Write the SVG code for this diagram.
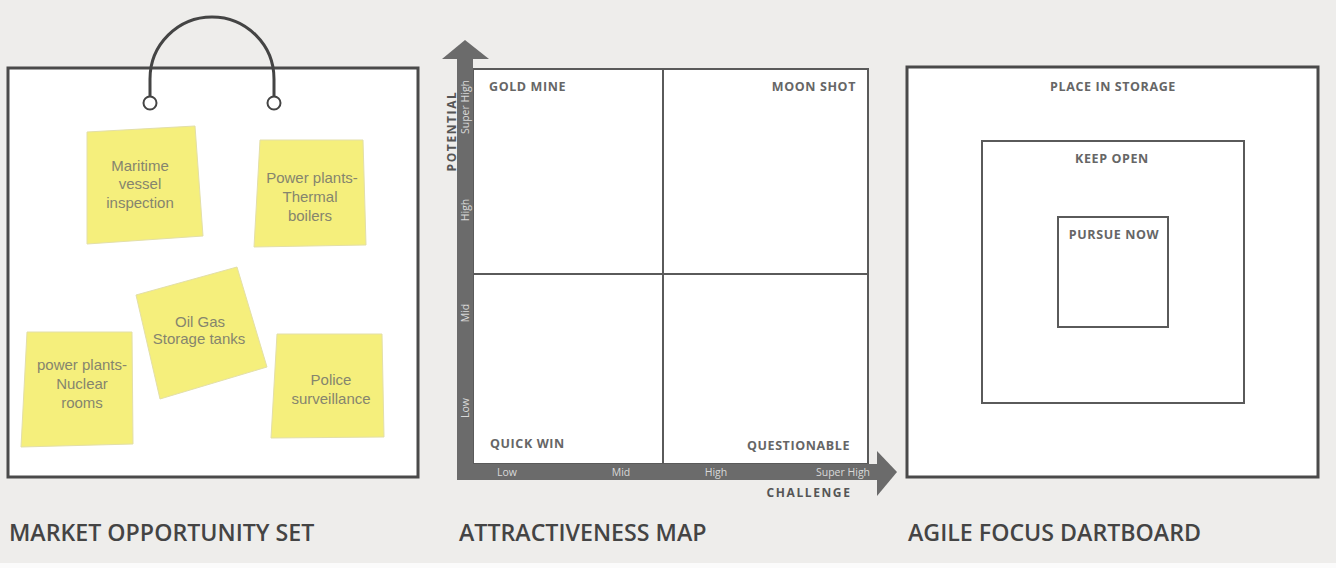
<svg xmlns="http://www.w3.org/2000/svg" width="1336" height="568" viewBox="0 0 1336 568">
  <style>
    .frame { fill: #ffffff; stroke: #4a4a4a; stroke-width: 3; }
    .thin { fill: #ffffff; stroke: #5a5a5a; stroke-width: 2; }
    .note { fill: #f5ef7c; stroke: #e3dfa8; stroke-width: 1; }
    .note-text { font-family: "Liberation Sans", Arial, sans-serif; font-size: 15px; fill: #85856e; text-anchor: middle; }
    .quad { font-family: "Open Sans", "DejaVu Sans", sans-serif; font-weight: 700; font-size: 12.5px; letter-spacing: 0.6px; fill: #666666; }
    .axis { font-family: "Open Sans", "DejaVu Sans", sans-serif; font-weight: 700; font-size: 12px; letter-spacing: 1.6px; fill: #555555; }
    .tick { font-family: "Open Sans", "DejaVu Sans", sans-serif; font-size: 10.5px; fill: #d9d9d9; text-anchor: middle; }
    .title { font-family: "Open Sans", "DejaVu Sans", sans-serif; font-weight: 600; font-size: 23.2px; fill: #444444; }
    .arrow { fill: #6b6b6b; }
  </style>

  <!-- backdrop -->
  <rect x="0" y="0" width="1336" height="568" fill="#eeedeb"/>
  <rect x="0" y="563" width="1336" height="5" fill="#fbfbfb"/>

  <!-- Market opportunity set: a bag of sticky notes -->
  <g id="market-opportunity-set">
    <rect class="frame" x="8" y="68" width="410" height="409"/>
    <path d="M150,97 V79 A62,62 0 0 1 274,79 V97" fill="none" stroke="#444444" stroke-width="3"/>
    <circle cx="150" cy="103" r="6.5" fill="#ffffff" stroke="#444444" stroke-width="2"/>
    <circle cx="274" cy="103" r="6.5" fill="#ffffff" stroke="#444444" stroke-width="2"/>

    <g id="note-maritime">
      <polygon class="note" points="87,132 195,126 203,236 87,244"/>
      <text class="note-text"><tspan x="140" y="171">Maritime</tspan><tspan x="140" y="189">vessel</tspan><tspan x="140" y="208">inspection</tspan></text>
    </g>
    <g id="note-thermal">
      <polygon class="note" points="260,140 363,140 366,245 254,247"/>
      <text class="note-text"><tspan x="312" y="183">Power plants-</tspan><tspan x="310" y="202">Thermal</tspan><tspan x="310" y="221">boilers</tspan></text>
    </g>
    <g id="note-oil-gas">
      <polygon class="note" points="136,295 237,267 267,367 160,399"/>
      <text class="note-text"><tspan x="200" y="327">Oil Gas</tspan><tspan x="199" y="344">Storage tanks</tspan></text>
    </g>
    <g id="note-nuclear">
      <polygon class="note" points="27,332 132,332 133,444 21,447"/>
      <text class="note-text"><tspan x="82" y="370">power plants-</tspan><tspan x="82" y="389">Nuclear</tspan><tspan x="82" y="408">rooms</tspan></text>
    </g>
    <g id="note-police">
      <polygon class="note" points="277,334 382,334 384,437 271,438"/>
      <text class="note-text"><tspan x="331" y="385">Police</tspan><tspan x="331" y="404">surveillance</tspan></text>
    </g>
  </g>

  <!-- Attractiveness map: potential vs challenge -->
  <g id="attractiveness-map">
    <rect class="thin" x="473" y="69" width="395" height="395"/>
    <line x1="663" y1="69" x2="663" y2="464" stroke="#5a5a5a" stroke-width="2"/>
    <line x1="473" y1="274" x2="868" y2="274" stroke="#5a5a5a" stroke-width="2"/>

    <text class="quad" x="489" y="91">GOLD MINE</text>
    <text class="quad" x="856" y="91" text-anchor="end">MOON SHOT</text>
    <text class="quad" x="490" y="448">QUICK WIN</text>
    <text class="quad" x="850" y="450" text-anchor="end">QUESTIONABLE</text>
  </g>

  <g id="connectors">
    <!-- potential axis -->
    <rect class="arrow" x="457" y="58" width="16" height="422"/>
    <polygon class="arrow" points="442,59 465,40 489,59"/>
    <!-- challenge axis -->
    <rect class="arrow" x="457" y="464" width="421" height="16"/>
    <polygon class="arrow" points="877,451 897,472 877,496"/>
  </g>

  <g id="axis-labels">
    <text class="axis" transform="translate(456,131) rotate(-90)" text-anchor="middle">POTENTIAL</text>
    <text class="axis" x="809" y="497" text-anchor="middle">CHALLENGE</text>

    <text class="tick" transform="translate(469,107) rotate(-90)">Super High</text>
    <text class="tick" transform="translate(469,210) rotate(-90)">High</text>
    <text class="tick" transform="translate(469,313) rotate(-90)">Mid</text>
    <text class="tick" transform="translate(469,408) rotate(-90)">Low</text>

    <text class="tick" x="507" y="476">Low</text>
    <text class="tick" x="621" y="476">Mid</text>
    <text class="tick" x="716" y="476">High</text>
    <text class="tick" x="843" y="476">Super High</text>
  </g>

  <!-- Agile focus dartboard: nested squares -->
  <g id="agile-focus-dartboard">
    <rect class="frame" x="907" y="67" width="411" height="410"/>
    <text class="quad" x="1113" y="91" text-anchor="middle">PLACE IN STORAGE</text>
    <g id="keep-open">
      <rect class="thin" x="982" y="141" width="262" height="262"/>
      <text class="quad" x="1112" y="163" text-anchor="middle">KEEP OPEN</text>
    </g>
    <g id="pursue-now">
      <rect class="thin" x="1058" y="217" width="110" height="110"/>
      <text class="quad" x="1114" y="239" text-anchor="middle">PURSUE NOW</text>
    </g>
  </g>

  <!-- section captions -->
  <g id="captions">
    <text class="title" x="9" y="541">MARKET OPPORTUNITY SET</text>
    <text class="title" x="459" y="541">ATTRACTIVENESS MAP</text>
    <text class="title" x="908" y="541">AGILE FOCUS DARTBOARD</text>
  </g>
</svg>
